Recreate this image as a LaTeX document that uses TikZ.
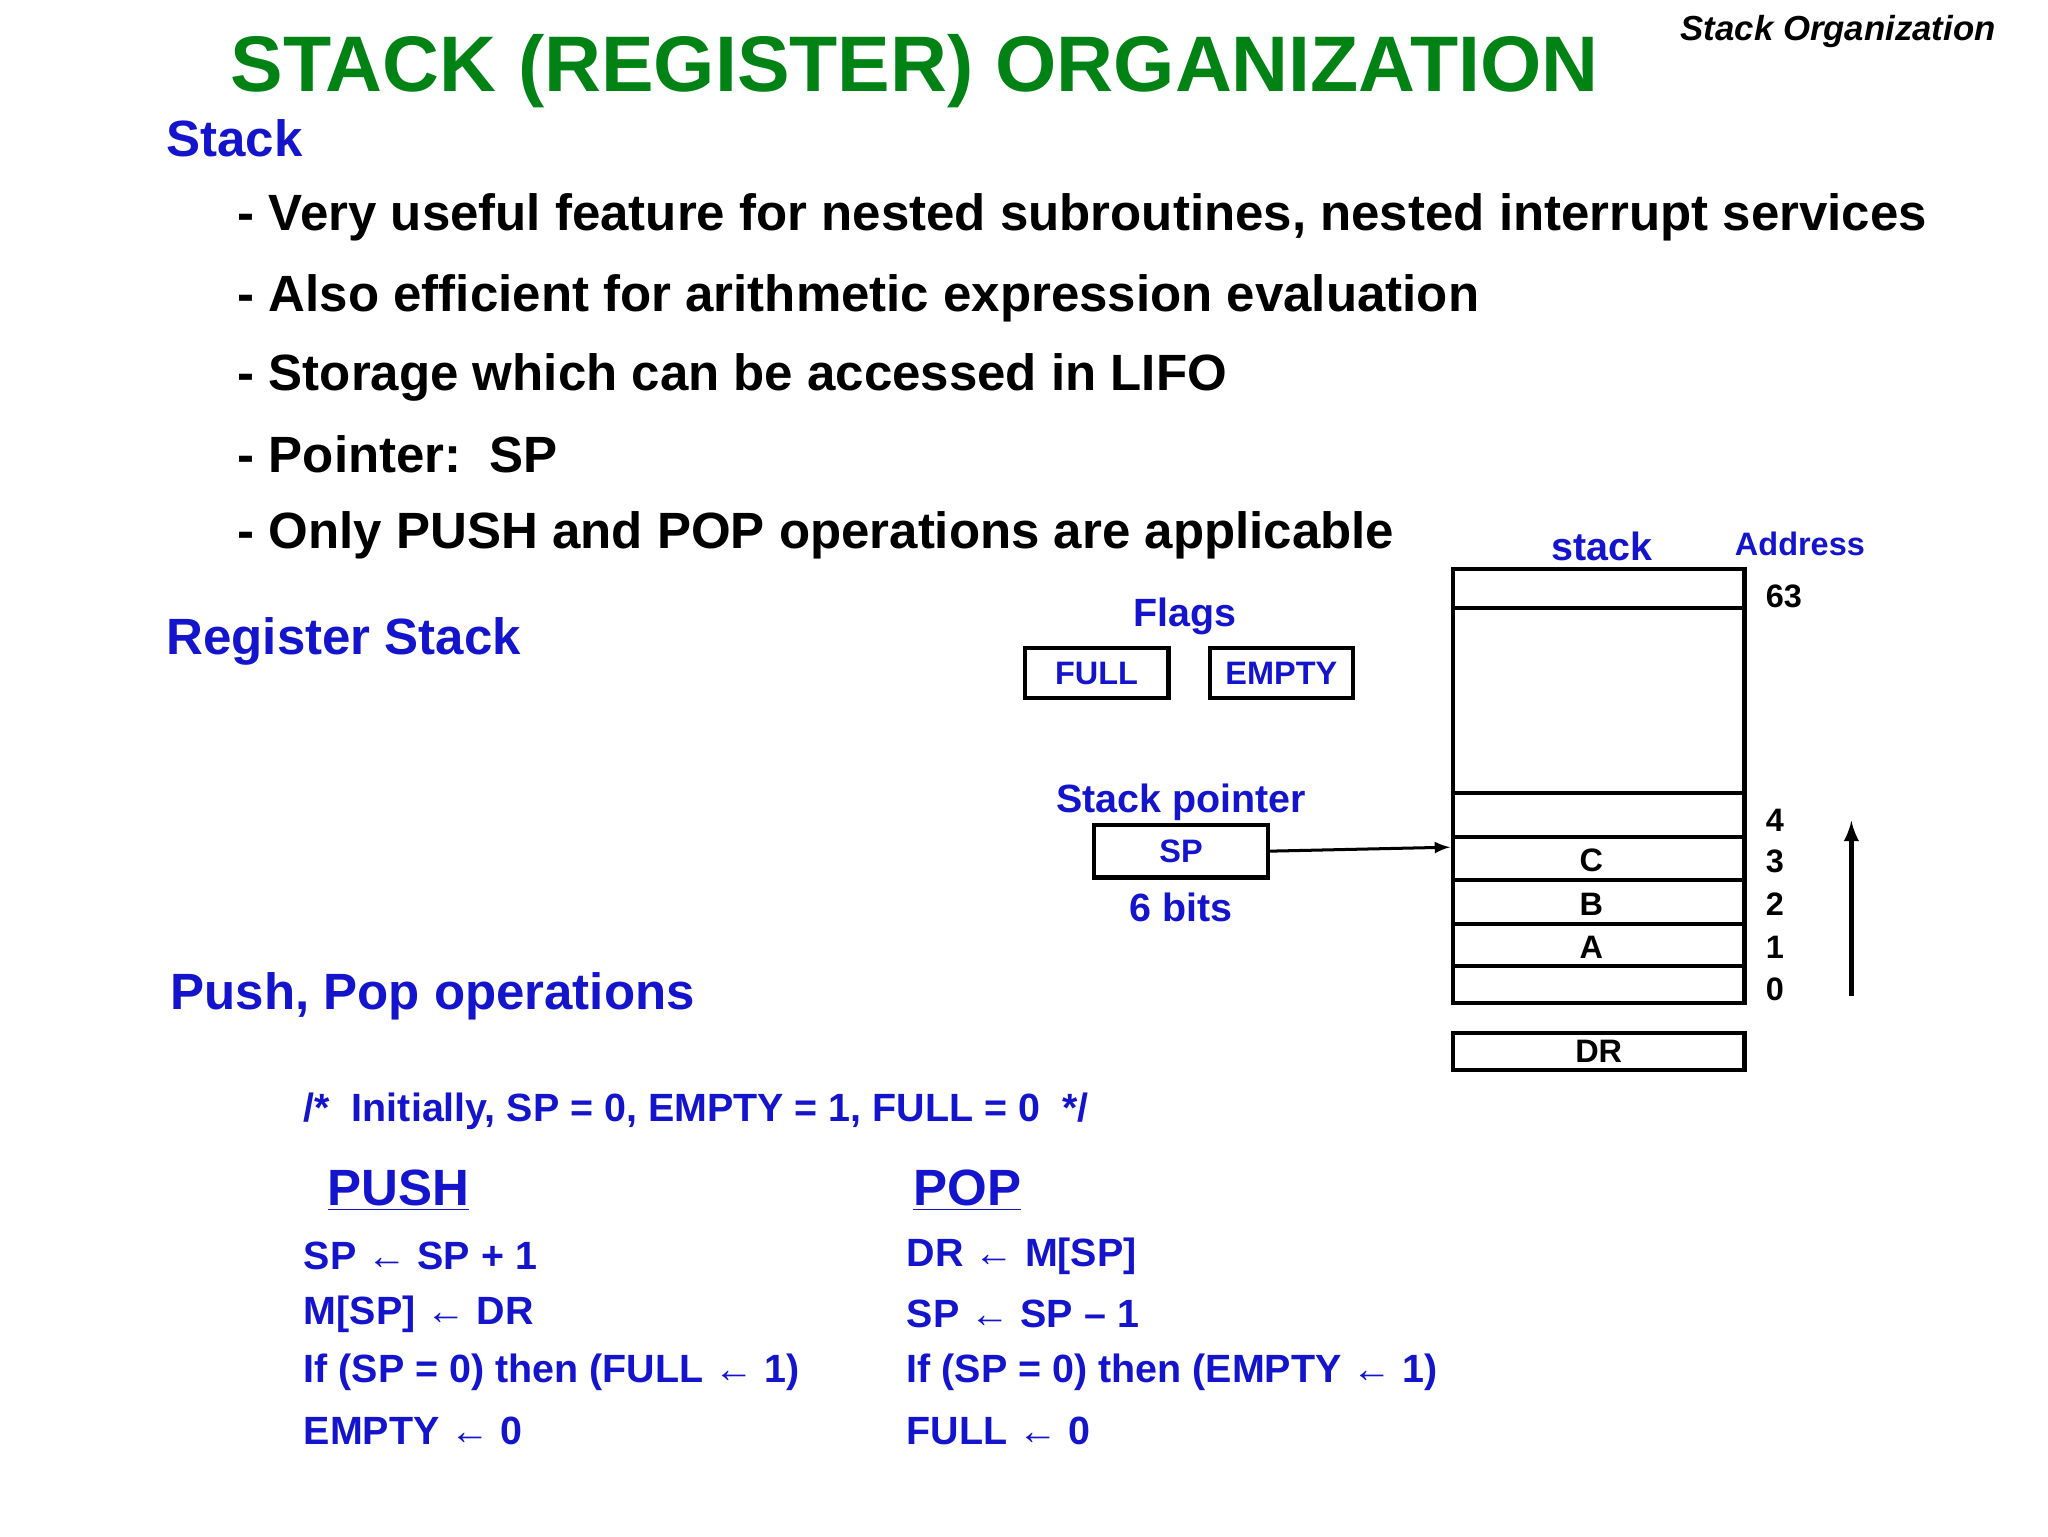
\documentclass[tikz,border=0pt]{standalone}
\usepackage{fontspec}
\setmainfont{Liberation Sans}
\begin{document}
\begin{tikzpicture}[x=0.02cm,y=-0.02cm,
  blue/.style={text=blu,font=\bfseries\fontsize{22}{24}\selectfont},
  body/.style={anchor=west,font=\bfseries\fontsize{22}{24}\selectfont},
  code/.style={anchor=west,text=blu,font=\bfseries\fontsize{17}{20}\selectfont},
  small/.style={font=\bfseries\fontsize{14}{16}\selectfont},
  box/.style={draw,line width=1.8pt},
  cell/.style={draw,line width=1.8pt}]
\definecolor{blu}{RGB}{20,20,205}
\definecolor{grn}{RGB}{0,130,20}
\useasboundingbox[fill=white] (0,0) rectangle (1552,1164);
\node[text=grn,font=\bfseries\fontsize{34}{38}\selectfont] (title) at (693,54) {STACK (REGISTER) ORGANIZATION};
\node[font=\bfseries\itshape\fontsize{15}{18}\selectfont] (corner) at (1393,24) {Stack Organization};
\node[blue,anchor=west] (stk) at (120,105) {Stack};
\node[body] (b1) at (174,165) {- Very useful feature for nested subroutines, nested interrupt services};
\node[body] (b2) at (174,226) {- Also efficient for arithmetic expression evaluation};
\node[body] (b3) at (174,286) {- Storage which can be accessed in LIFO};
\node[body] (b4) at (174,344) {- Pointer:\ \ SP};
\node[body] (b5) at (174,406) {- Only PUSH and POP operations are applicable};
\node[blue,anchor=west] (rs) at (120,486) {Register Stack};
\node[blue,anchor=west] (pp) at (123,755) {Push, Pop operations};
\node[code] (init) at (224,842) {/*\ \ Initially, SP = 0, EMPTY = 1, FULL = 0\ \ */};
\node[code,font=\bfseries\fontsize{22}{24}\selectfont] (push) at (242,902) {\underline{PUSH}};
\node[code,font=\bfseries\fontsize{22}{24}\selectfont] (pop) at (686,902) {\underline{POP}};
\node[code] (p1) at (224,952) {SP ← SP + 1};
\node[code] (p2) at (224,996) {M[SP] ← DR};
\node[code] (p3) at (224,1040) {If (SP = 0) then (FULL ← 1)};
\node[code] (p4) at (224,1084) {EMPTY ← 0};
\node[code] (q1) at (681,952) {DR ← M[SP]};
\node[code] (q2) at (681,996) {SP ← SP – 1};
\node[code] (q3) at (681,1040) {If (SP = 0) then (EMPTY ← 1)};
\node[code] (q4) at (681,1084) {FULL ← 0};
% flags
\node[code,anchor=center] (flags) at (898,467) {Flags};
\node[box,small,text=blu,minimum width=109*0.02cm,minimum height=38*0.02cm] (full) at (831,510) {FULL};
\node[box,small,text=blu,minimum width=108*0.02cm,minimum height=38*0.02cm] (empty) at (971,510) {EMPTY};
\node[code,anchor=center] (splab) at (895,608) {Stack pointer};
\node[box,small,text=blu,minimum width=132*0.02cm,minimum height=40*0.02cm] (sp) at (895,645) {SP};
\node[code,anchor=center] (bits) at (895,688) {6 bits};
% stack
\node[code,anchor=center] (stlab) at (1214,414) {stack};
\node[small,text=blu] (addr) at (1364,412) {Address};
\draw[cell] (1101,431) rectangle (1322,760);
\foreach \yy in {461,601,634,667,700,732} \draw[line width=1.8pt] (1101,\yy) -- (1322,\yy);
\node[small] (cC) at (1206,652) {C};
\node[small] (cB) at (1206,685) {B};
\node[small] (cA) at (1206,718) {A};
\node[small,anchor=west] (a63) at (1332,452) {63};
\node[small,anchor=west] (a4) at (1332,622) {4};
\node[small,anchor=west] (a3) at (1332,653) {3};
\node[small,anchor=west] (a2) at (1332,685) {2};
\node[small,anchor=west] (a1) at (1332,718) {1};
\node[small,anchor=west] (a0) at (1332,750) {0};
\coordinate (cell4) at (1099,642);
\draw[-latex,line width=1.3pt] (sp.east) -- (cell4);
\coordinate (up0) at (1403,755);
\coordinate (up1) at (1403,622);
\draw[-latex,line width=2pt] (up0) -- (up1);
\node[box,small,minimum width=221*0.02cm,minimum height=28*0.02cm,inner sep=0pt] (dr) at (1211.5,797) {DR};
\end{tikzpicture}
\end{document}
